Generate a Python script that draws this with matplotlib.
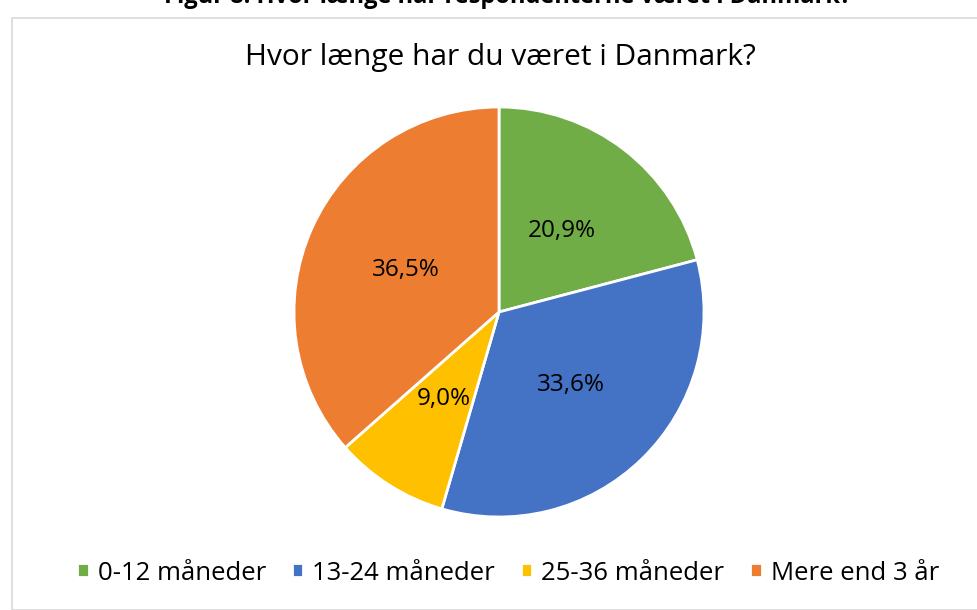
import matplotlib
matplotlib.use("Agg")
import matplotlib.pyplot as plt
from matplotlib.patches import Rectangle

categories = ["0-12 måneder", "13-24 måneder", "25-36 måneder", "Mere end 3 år"]
values = [20.9, 33.6, 9.0, 36.5]
colors = ["#70AD47", "#4472C4", "#FFC000", "#ED7D31"]
title = "Hvor længe har du været i Danmark?"
top_caption = "Figur 8: Hvor længe har respondenterne været i Danmark?"

plt.rcParams['font.family'] = ['Open Sans', 'DejaVu Sans']

W, H = 978, 610
fig = plt.figure(figsize=(W/100, H/100), dpi=100)

# chart border
fig.patches.append(Rectangle((12/W, 0), 1 - 12/W, 1 - 18/H, transform=fig.transFigure,
                             fill=False, edgecolor="#D9D9D9", linewidth=1.2))

cx, cy, R = 499, 312, 205
ax = fig.add_axes([(cx - R)/W, (H - cy - R)/H, 2*R/W, 2*R/H])
wedges, texts, autotexts = ax.pie(
    values, colors=colors, startangle=90, counterclock=False,
    autopct=lambda p: f"{p:.1f}".replace(".", ",") + "%", pctdistance=0.5,
    wedgeprops=dict(edgecolor="white", linewidth=2), radius=1,
    textprops=dict(fontsize=17.5, color="black"))
ax.set_xlim(-1, 1)
ax.set_ylim(-1, 1)
ax.set_aspect("equal")
ax.axis("off")

fig.text(500/W, 1 - 57/H, title, ha="center", va="center", fontsize=21.5)
fig.text(508/W, 1 - 3/H, top_caption, ha="center", va="baseline", fontsize=17,
         fontweight="bold")

fig.legend(wedges, categories, loc="center", bbox_to_anchor=(508/W, 1 - 573/H),
           ncol=4, frameon=False, fontsize=18.5, handlelength=0.45, handleheight=0.45,
           handletextpad=0.35, columnspacing=1.0)

fig.savefig("out.png", dpi=100)
